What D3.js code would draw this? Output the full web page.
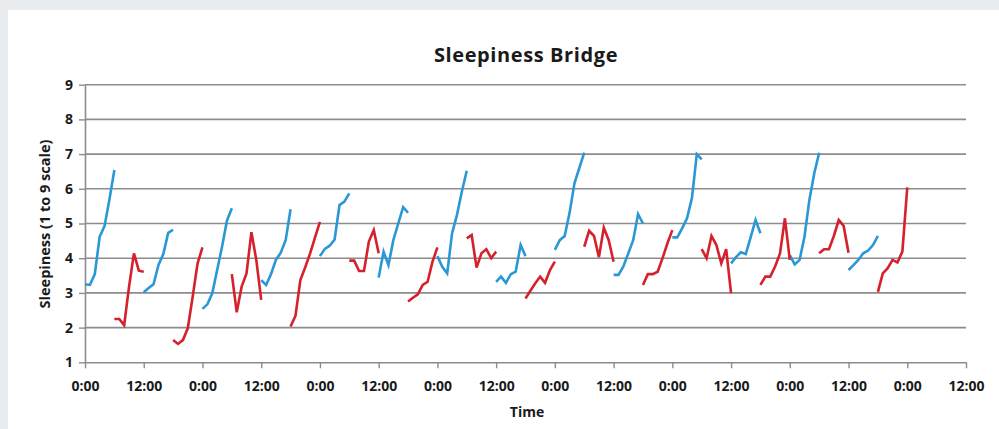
<!DOCTYPE html>
<html>
<head>
<meta charset="utf-8">
<script src="https://cdn.jsdelivr.net/npm/d3@7"></script>
<style>
  body { margin: 0; background: #e8ecef; }
  svg { display: block; }
  text { font-family: "Open Sans", "Noto Sans", sans-serif; font-weight: bold; fill: #1a1a1a; }
</style>
</head>
<body>
<svg id="chart" width="999" height="429"></svg>
<script>
// hourly readings, each run of 7 points covers 6 hours
// blue runs start at 0:00, 12:00, ... ; red runs start at 6:00, 18:00, ...
const blueRuns = [
  [3.25, 3.23, 3.54, 4.62, 4.93, 5.7, 6.54],
  [3.02, 3.14, 3.25, 3.8, 4.12, 4.73, 4.82],
  [2.54, 2.67, 2.99, 3.66, 4.33, 5.08, 5.44],
  [3.37, 3.23, 3.54, 3.95, 4.16, 4.52, 5.41],
  [4.06, 4.27, 4.36, 4.54, 5.53, 5.63, 5.87],
  [3.44, 4.19, 3.8, 4.52, 5.0, 5.47, 5.31],
  [4.06, 3.75, 3.56, 4.72, 5.25, 5.92, 6.52],
  [3.32, 3.47, 3.29, 3.54, 3.61, 4.38, 4.06],
  [4.24, 4.52, 4.64, 5.3, 6.16, 6.6, 7.04],
  [3.52, 3.52, 3.76, 4.14, 4.52, 5.27, 5.0],
  [4.6, 4.6, 4.86, 5.15, 5.73, 7.0, 6.85],
  [3.85, 4.03, 4.17, 4.12, 4.6, 5.1, 4.72],
  [4.09, 3.82, 3.95, 4.62, 5.68, 6.45, 7.04],
  [3.66, 3.8, 3.95, 4.14, 4.22, 4.38, 4.64]
];
const redRuns = [
  [2.25, 2.25, 2.07, 3.18, 4.14, 3.64, 3.61],
  [1.64, 1.53, 1.64, 1.98, 2.89, 3.85, 4.31],
  [3.54, 2.44, 3.18, 3.56, 4.75, 3.95, 2.8],
  [2.03, 2.34, 3.37, 3.74, 4.14, 4.6, 5.05],
  [3.93, 3.93, 3.63, 3.63, 4.48, 4.81, 4.14],
  [2.75, 2.86, 2.96, 3.23, 3.32, 3.9, 4.31],
  [4.57, 4.67, 3.73, 4.14, 4.26, 4.0, 4.19],
  [2.84, 3.06, 3.28, 3.47, 3.29, 3.66, 3.9],
  [4.33, 4.79, 4.64, 4.03, 4.88, 4.52, 3.9],
  [3.23, 3.54, 3.54, 3.61, 4.0, 4.43, 4.81],
  [4.26, 4.0, 4.64, 4.38, 3.85, 4.26, 2.99],
  [3.23, 3.47, 3.47, 3.76, 4.14, 5.15, 3.95],
  [4.14, 4.26, 4.26, 4.64, 5.1, 4.93, 4.16],
  [3.03, 3.56, 3.71, 3.95, 3.88, 4.19, 6.04]
];
const xTickHours = d3.range(0, 181, 12);
const xTickLabels = xTickHours.map(h => (h % 24 === 0 ? "0:00" : "12:00"));
const yTicks = [1, 2, 3, 4, 5, 6, 7, 8, 9];

let svg = d3.select("#chart");

svg.append("rect")
  .attr("x", 8).attr("y", 10)
  .attr("width", 991).attr("height", 419)
  .attr("fill", "#fff");

let xScale = d3.scaleLinear().domain([0, 180]).range([85, 966]);
let yScale = d3.scaleLinear().domain([1, 9]).range([362.3, 84.7]);

// gridlines
svg.append("g")
  .selectAll("line")
  .data(yTicks.slice(1))
  .enter()
  .append("line")
  .attr("x1", xScale(0)).attr("x2", xScale(180))
  .attr("y1", d => yScale(d)).attr("y2", d => yScale(d))
  .attr("stroke", "#8c8c8c")
  .attr("stroke-width", 1.6);

// axes
let xAxis = d3.axisBottom(xScale)
  .tickValues(xTickHours)
  .tickFormat((d, i) => xTickLabels[i])
  .tickSizeInner(6).tickSizeOuter(0).tickPadding(13);
let gx = svg.append("g").attr("transform", `translate(0,${yScale(1)})`).call(xAxis);

let yAxis = d3.axisLeft(yScale)
  .tickValues(yTicks)
  .tickFormat(d3.format("d"))
  .tickSizeInner(6).tickSizeOuter(0).tickPadding(6);
let gy = svg.append("g").attr("transform", `translate(${xScale(0)},0)`).call(yAxis);

[gx, gy].forEach(g => {
  g.select(".domain").attr("stroke", "#8c8c8c").attr("stroke-width", 1.6);
  g.selectAll(".tick line").attr("stroke", "#8c8c8c").attr("stroke-width", 1.4);
  g.selectAll(".tick text").style("font-size", "14px").attr("fill", "#1a1a1a");
});
gx.selectAll(".tick text").attr("dy", "0.71em");

// series
let line = d3.line()
  .x(d => xScale(d.h))
  .y(d => yScale(d.v));

let toPoints = (run, start) => run.map((v, i) => ({ h: start + i, v: v }));

svg.append("g")
  .selectAll(".blue")
  .data(blueRuns)
  .enter()
  .append("path")
  .attr("class", "blue")
  .attr("d", (run, k) => line(toPoints(run, 12 * k)))
  .attr("fill", "none")
  .attr("stroke", "#2a98d5")
  .attr("stroke-width", 2.6);

svg.append("g")
  .selectAll(".red")
  .data(redRuns)
  .enter()
  .append("path")
  .attr("class", "red")
  .attr("d", (run, k) => line(toPoints(run, 12 * k + 6)))
  .attr("fill", "none")
  .attr("stroke", "#d6202b")
  .attr("stroke-width", 2.6);

// titles
svg.append("text")
  .attr("x", 526).attr("y", 62)
  .attr("text-anchor", "middle")
  .style("font-size", "20px")
  .style("letter-spacing", "0.6px")
  .text("Sleepiness  Bridge");

svg.append("text")
  .attr("x", 527).attr("y", 417)
  .attr("text-anchor", "middle")
  .style("font-size", "14px")
  .text("Time");

svg.append("text")
  .attr("transform", "translate(50,224) rotate(-90)")
  .attr("text-anchor", "middle")
  .style("font-size", "14.5px")
  .text("Sleepiness (1 to 9 scale)");
</script>
</body>
</html>
